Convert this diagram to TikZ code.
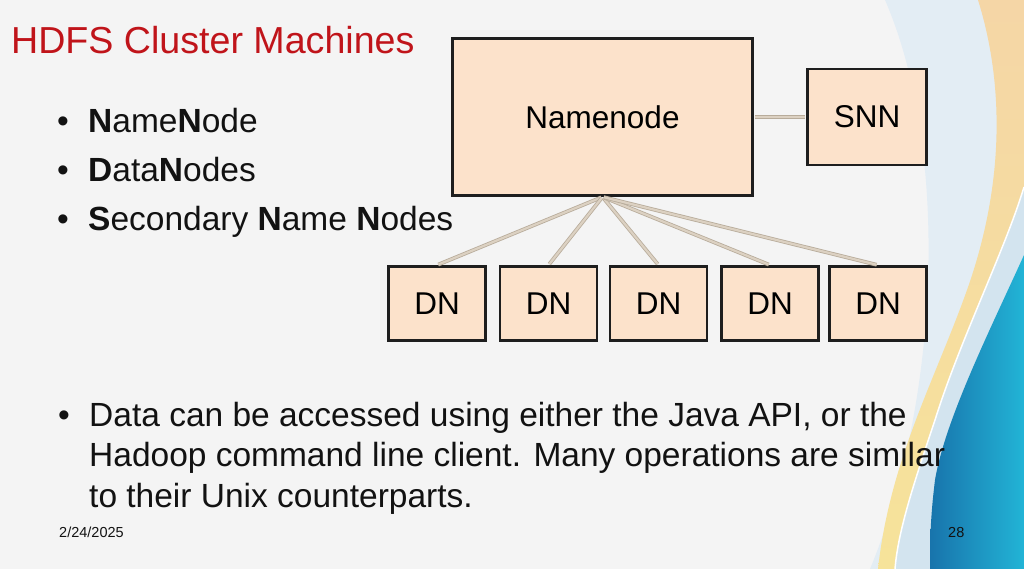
\documentclass[tikz,border=0pt]{standalone}
\usepackage{fontspec}
\setmainfont{Liberation Sans}
\definecolor{slidebg}{HTML}{F4F4F4}
\definecolor{titlered}{HTML}{C0141A}
\definecolor{boxfill}{HTML}{FCE2CB}
\definecolor{boxline}{HTML}{1E1E1E}
\definecolor{linkgray}{HTML}{B8AC9B}
\definecolor{linkfill}{HTML}{DCD1C2}
\definecolor{swooshpale}{HTML}{E3EDF4}
\definecolor{swooshpeach}{HTML}{F5D6A6}
\definecolor{swooshyellow}{HTML}{F6E39A}
\definecolor{swooshlight}{HTML}{D3E4EF}
\definecolor{deepblue}{HTML}{1874AC}
\definecolor{brightblue}{HTML}{22B4D6}
\begin{document}
\begin{tikzpicture}[x=1pt,y=-1pt,
    machine/.style={draw=boxline,fill=boxfill,line width=2.8pt,inner sep=0pt,
      font=\fontsize{31.5}{36}\selectfont},
    link/.style={draw=linkgray,double=linkfill,double distance=2.2pt,line width=0.8pt,
      shorten <=1.4pt,shorten >=1.4pt},
    slidetext/.style={inner sep=0pt,anchor=base west,text=black!93},
    bulletbig/.style={slidetext,font=\fontsize{33.5}{40}\selectfont},
    bulletsmall/.style={slidetext,font=\fontsize{33.5}{40}\selectfont}]
  \useasboundingbox (0,0) rectangle (1024,569);
  \fill[slidebg] (0,0) rectangle (1024,569);

  % swoosh on the right
  \fill[swooshpale] (885,0) .. controls (950,150) and (940,400) .. (870,569)
    -- (1024,569) -- (1024,0) -- cycle;
  \shade[top color=swooshpeach,bottom color=swooshyellow]
    (978,0) .. controls (1003,80) and (1006,180) .. (967,290)
    .. controls (935,380) and (890,460) .. (878,569)
    -- (1024,569) -- (1024,0) -- cycle;
  \fill[swooshlight] (1024,187) .. controls (1005,250) and (960,340) .. (935,420)
    .. controls (915,480) and (898,530) .. (895,569) -- (1024,569) -- cycle;
  \draw[white,line width=1.5pt] (1024,187) .. controls (1005,250) and (960,340) .. (935,420)
    .. controls (915,480) and (898,530) .. (895,569);
  \shade[left color=deepblue,right color=brightblue]
    (1024,255) .. controls (990,330) and (945,420) .. (935,480)
    .. controls (930,520) and (930,545) .. (930,569) -- (1024,569) -- cycle;

  % title and bullets
  \node[slidetext,text=titlered,font=\fontsize{37.6}{44}\selectfont] (title) at (11,54)
    {HDFS Cluster Machines};
  \node[bulletbig] (item1) at (57,133) {\makebox[31pt][l]{•}\textbf{N}ame\textbf{N}ode};
  \node[bulletbig] (item2) at (57,182) {\makebox[31pt][l]{•}\textbf{D}ata\textbf{N}odes};
  \node[bulletbig] (item3) at (57,230)
    {\makebox[31pt][l]{•}\textbf{S}econdary \textbf{N}ame \textbf{N}odes};

  % cluster machines
  \draw
    (602.5,117) node[machine,minimum width=300pt,minimum height=157pt] (nn) {Namenode}
    (867,117) node[machine,minimum width=119pt,minimum height=96pt] (snn) {SNN}
    (437,303.5) node[machine,minimum width=97pt,minimum height=74pt] (dn1) {DN}
    (548.5,303.5) node[machine,minimum width=97pt,minimum height=74pt] (dn2) {DN}
    (658.5,303.5) node[machine,minimum width=97pt,minimum height=74pt] (dn3) {DN}
    (770,303.5) node[machine,minimum width=97pt,minimum height=74pt] (dn4) {DN}
    (878,303.5) node[machine,minimum width=97pt,minimum height=74pt] (dn5) {DN};
  \begin{scope}
    \draw[link] (nn.east) to (snn.west);
    \draw[link] (nn.south) to (dn1.north);
    \draw[link] (nn.south) to (dn2.north);
    \draw[link] (nn.south) to (dn3.north);
    \draw[link] (nn.south) to (dn4.north);
    \draw[link] (nn.south) to (dn5.north);
  \end{scope}

  % access note
  \node[bulletsmall] (data1) at (89,426)
    {\llap{\makebox[31pt][l]{•}}Data can be accessed using either the Java API, or the};
  \node[bulletsmall] (data2) at (89,466)
    {Hadoop command line client. Many operations are similar};
  \node[bulletsmall] (data3) at (89,507) {to their Unix counterparts.};

  % footer
  \node[slidetext,font=\fontsize{14.5}{17}\selectfont] (date) at (59,537) {2/24/2025};
  \node[slidetext,font=\fontsize{14.5}{17}\selectfont] (page) at (948,537) {28};
\end{tikzpicture}
\end{document}
